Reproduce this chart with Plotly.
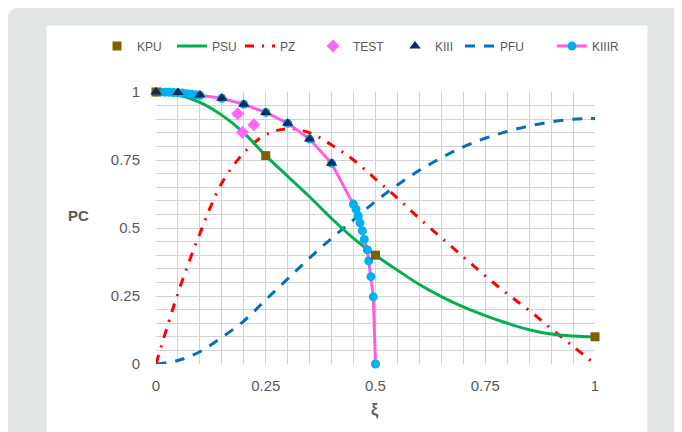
import plotly.graph_objects as go

# ---------------- data ----------------
xi_grid = [0, 0.05, 0.1, 0.15, 0.2, 0.25, 0.3, 0.35, 0.4, 0.45, 0.5,
           0.55, 0.6, 0.65, 0.7, 0.75, 0.8, 0.85, 0.9, 0.95, 1.0]

psu_y = [1.0, 0.99, 0.962, 0.915, 0.85, 0.766, 0.69, 0.615, 0.535, 0.462, 0.40,
         0.345, 0.292, 0.248, 0.21, 0.178, 0.15, 0.126, 0.11, 0.103, 0.10]

pz_y = [0.0, 0.26, 0.48, 0.665, 0.776, 0.843, 0.865, 0.85, 0.805, 0.75, 0.68,
        0.61, 0.535, 0.464, 0.394, 0.324, 0.258, 0.197, 0.13, 0.065, 0.0]

pfu_y = [0.0, 0.013, 0.045, 0.098, 0.158, 0.236, 0.313, 0.39, 0.462, 0.53, 0.598,
         0.658, 0.712, 0.758, 0.798, 0.83, 0.855, 0.875, 0.89, 0.9, 0.903]

kpu_x = [0, 0.25, 0.5, 1.0]
kpu_y = [1.0, 0.766, 0.40, 0.10]

test_x = [0.186, 0.223, 0.197]
test_y = [0.92, 0.88, 0.852]

kiii_x = [0, 0.05, 0.1, 0.15, 0.2, 0.25, 0.3, 0.35, 0.4]
kiii_y = [1.0, 0.998, 0.989, 0.977, 0.955, 0.925, 0.885, 0.827, 0.738]

kiiir_x = [0, 0.01, 0.02, 0.03, 0.04, 0.05, 0.06, 0.07, 0.08, 0.09, 0.1,
           0.15, 0.2, 0.25, 0.3, 0.35, 0.4,
           0.4495, 0.4556, 0.461, 0.4647, 0.47, 0.4745, 0.4813, 0.4845,
           0.4897, 0.495, 0.5]
kiiir_y = [1.0, 1.0, 0.9995, 0.999, 0.998, 0.997, 0.996, 0.994, 0.992, 0.99, 0.988,
           0.977, 0.955, 0.925, 0.885, 0.827, 0.738,
           0.588, 0.569, 0.544, 0.519, 0.49, 0.458, 0.42, 0.379,
           0.321, 0.247, 0.0]

x_ticks = [0, 0.25, 0.5, 0.75, 1]
x_tick_labels = ["0", "0.25", "0.5", "0.75", "1"]
y_ticks = [0, 0.25, 0.5, 0.75, 1]
y_tick_labels = ["0", "0.25", "0.5", "0.75", "1"]

# ---------------- figure ----------------
OFF = 8  # page body margin offset
W, H = 682, 432
L, R, T, B = 156 - OFF, 595 - OFF, 92 - OFF, 364 - OFF  # plot area pixel box (figure coords)


def px(v):
    return (v - OFF - L) / (R - L)


def py(v):
    return (B - (v - OFF)) / (B - T)


fig = go.Figure()

# legend slot (page x of each legend entry's left edge)
leg_pos = {"KPU": 97, "PSU": 172, "PZ": 240, "TEST": 313, "KIII": 395, "PFU": 460, "KIIIR": 552}
leg_id = {"KPU": "legend", "PSU": "legend2", "PZ": "legend3", "TEST": "legend4",
          "KIII": "legend5", "PFU": "legend6", "KIIIR": "legend7"}

fig.add_trace(go.Scatter(x=xi_grid, y=pfu_y, mode="lines", name="PFU", legend=leg_id["PFU"],
                         line=dict(color="#0070c0", width=3, dash="10px,9px", shape="spline")))
fig.add_trace(go.Scatter(x=xi_grid, y=pz_y, mode="lines", name="PZ", legend=leg_id["PZ"],
                         line=dict(color="#ff0000", width=3, dash="9px,8px,2px,8px", shape="spline")))
fig.add_trace(go.Scatter(x=xi_grid, y=psu_y, mode="lines", name="PSU", legend=leg_id["PSU"],
                         line=dict(color="#00b050", width=3, shape="spline")))
fig.add_trace(go.Scatter(x=kiiir_x, y=kiiir_y, mode="lines+markers", name="KIIIR", legend=leg_id["KIIIR"],
                         line=dict(color="#ff5ce6", width=3),
                         marker=dict(color="#00b0f0", size=9, symbol="circle")))
fig.add_trace(go.Scatter(x=test_x, y=test_y, mode="markers", name="TEST", legend=leg_id["TEST"],
                         marker=dict(color="#ff66ff", size=10, symbol="diamond")))
fig.add_trace(go.Scatter(x=kpu_x, y=kpu_y, mode="markers", name="KPU", legend=leg_id["KPU"],
                         marker=dict(color="#7f6000", size=9, symbol="square")))
fig.add_trace(go.Scatter(x=kiii_x, y=kiii_y, mode="markers", name="KIII", legend=leg_id["KIII"],
                         marker=dict(color="#0d2a5e", size=10, symbol="triangle-up")))

fig.update_traces(cliponaxis=False)

grid_col = "#d3d3d3"
tick_font = dict(family="Liberation Sans, Arial, sans-serif", size=15, color="#595959")

fig.update_xaxes(range=[0, 1], tickvals=x_ticks, ticktext=x_tick_labels,
                 showgrid=True, gridcolor=grid_col, gridwidth=1,
                 minor=dict(dtick=0.05, showgrid=True, gridcolor=grid_col, gridwidth=1),
                 zeroline=False, showline=False,
                 ticks="outside", ticklen=8, tickcolor="rgba(0,0,0,0)",
                 tickfont=tick_font, tickprefix="<b>", ticksuffix="</b>")
fig.update_yaxes(range=[0, 1], tickvals=y_ticks, ticktext=y_tick_labels,
                 showgrid=True, gridcolor=grid_col, gridwidth=1,
                 minor=dict(dtick=0.05, showgrid=True, gridcolor=grid_col, gridwidth=1),
                 zeroline=False, showline=False,
                 ticks="outside", ticklen=12, tickcolor="rgba(0,0,0,0)",
                 tickfont=tick_font, tickprefix="<b>", ticksuffix="</b>")

# background card + white panel
r = 15
gx0, gx1, gy0, gy1 = px(7), px(690), py(7), py(445)
rx, ry = r / (R - L), r / (B - T)
card_path = (f"M {gx0},{gy1} L {gx0},{gy0 - ry} Q {gx0},{gy0} {gx0 + rx},{gy0} "
             f"L {gx1 - rx},{gy0} Q {gx1},{gy0} {gx1},{gy0 - ry} L {gx1},{gy1} Z")
shapes = [
    dict(type="path", xref="paper", yref="paper", path=card_path,
         fillcolor="#e3e6e6", line=dict(width=0), layer="below"),
    dict(type="rect", xref="paper", yref="paper", x0=px(46), x1=px(648), y0=py(25), y1=py(445),
         fillcolor="#ffffff", line=dict(color="#e4e4e4", width=1), layer="below"),
]

lab_font = dict(family="Liberation Sans, Arial, sans-serif", size=15, color="#595959")
annotations = [
    dict(text="<b>PC</b>", x=px(78), y=py(215), xref="paper", yref="paper",
         xanchor="center", yanchor="middle", showarrow=False, font=lab_font),
    dict(text="<b>ξ</b>", x=px(375), y=py(410), xref="paper", yref="paper",
         xanchor="center", yanchor="middle", showarrow=False,
         font=dict(family="Liberation Sans, Arial, sans-serif", size=16, color="#595959")),
]

leg_font = dict(family="Liberation Sans, Arial, sans-serif", size=12, color="#595959")
legends = {}
for name, pos in leg_pos.items():
    legends[leg_id[name]] = dict(
        orientation="h", xref="container", x=(pos - OFF) / W, xanchor="left",
        yref="container", y=1 - (46 - OFF) / H, yanchor="middle",
        font=leg_font, bgcolor="rgba(0,0,0,0)", borderwidth=0)

fig.update_layout(
    width=W, height=H,
    margin=dict(l=L, r=W - R, t=T, b=H - B, pad=0),
    paper_bgcolor="#ffffff",
    plot_bgcolor="rgba(0,0,0,0)",
    shapes=shapes,
    annotations=annotations,
    showlegend=True,
    **legends,
)

fig.write_html("out.html")
